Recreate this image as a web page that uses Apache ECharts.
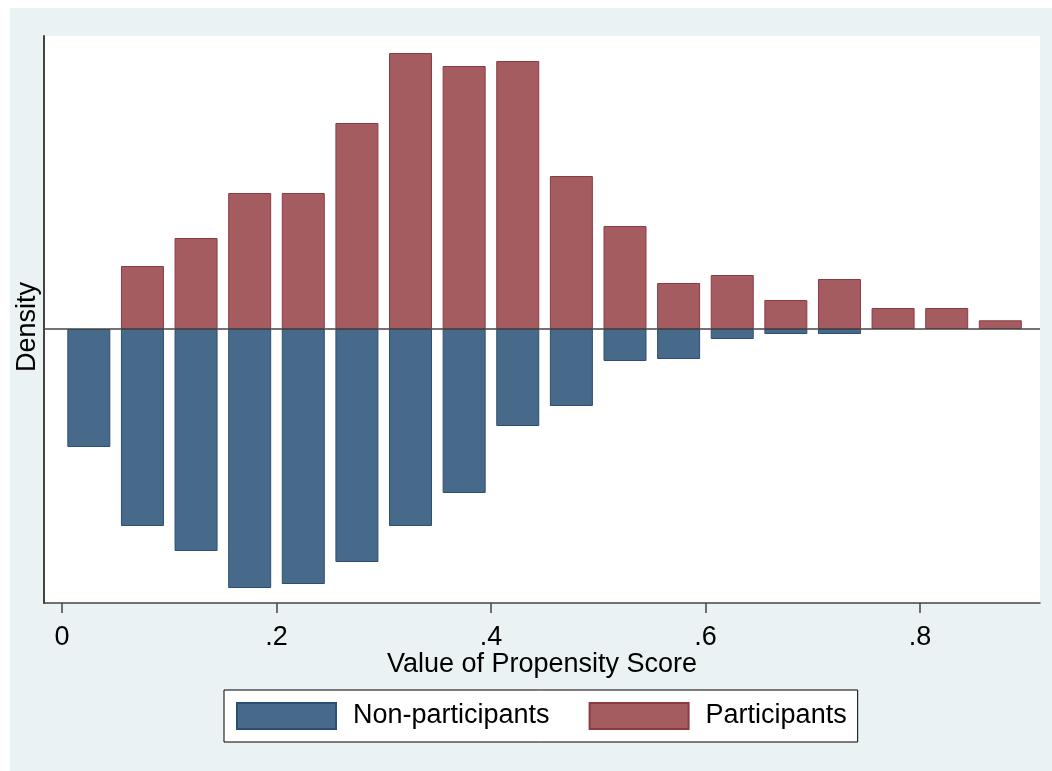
<!DOCTYPE html>
<html>
<head>
<meta charset="utf-8">
<script src="https://cdn.jsdelivr.net/npm/echarts@6/dist/echarts.min.js"></script>
<style>
  html, body { margin: 0; padding: 0; background: #ffffff; }
  #bg { position: absolute; left: 10px; top: 8px; width: 1042px; height: 763px; background: #eaf2f3; }
  #chart { position: absolute; left: 0; top: 0; width: 1052px; height: 771px; }
</style>
</head>
<body>
<div id="bg"></div>
<div id="chart"></div>
<script>
// Bin centers of the propensity-score histogram (bin width 0.05)
const binCenters = [0.025, 0.075, 0.125, 0.175, 0.225, 0.275, 0.325, 0.375, 0.425,
                    0.475, 0.525, 0.575, 0.625, 0.675, 0.725, 0.775, 0.825, 0.875];
// Density of participants (drawn upward)
const participants = [0, 0.63, 0.91, 1.36, 1.36, 2.06, 2.76, 2.63, 2.68,
                      1.53, 1.03, 0.46, 0.54, 0.29, 0.50, 0.21, 0.21, 0.087];
// Density of non-participants (drawn downward)
const nonParticipants = [1.18, 1.97, 2.22, 2.59, 2.55, 2.33, 1.97, 1.64, 0.97,
                         0.77, 0.32, 0.30, 0.10, 0.05, 0.05, 0, 0, 0];
// X-axis ticks
const tickValues = [0, 0.2, 0.4, 0.6, 0.8];
const tickLabels = ['0', '.2', '.4', '.6', '.8'];

const FONT = "'Liberation Sans', Arial, Helvetica, sans-serif";

const partData = [];
const nonData = [];
binCenters.forEach((x, i) => {
  if (participants[i] > 0) partData.push([x, participants[i]]);
  if (nonParticipants[i] > 0) nonData.push([x, -nonParticipants[i]]);
});

const chart = echarts.init(document.getElementById('chart'), null, { renderer: 'canvas' });
chart.setOption({
  animation: false,
  backgroundColor: 'transparent',
  textStyle: { fontFamily: FONT },
  grid: {
    left: 44, top: 36, right: 12, bottom: 168,
    show: true, backgroundColor: '#ffffff', borderWidth: 0,
    containLabel: false
  },
  legend: {
    left: 224, top: 690,
    orient: 'horizontal',
    backgroundColor: '#ffffff',
    borderColor: '#000000', borderWidth: 1,
    padding: [12, 11, 12, 12],
    itemWidth: 99, itemHeight: 26, itemGap: 39,
    icon: 'rect',
    selectedMode: false,
    textStyle: { fontFamily: FONT, fontSize: 27, color: '#000000', padding: [0, 0, 0, 12], lineHeight: 26 },
    data: ['Non-participants', 'Participants']
  },
  xAxis: {
    type: 'value',
    min: -0.0168, max: 0.912,
    name: 'Value of Propensity Score',
    nameLocation: 'middle',
    nameGap: 48,
    nameMoveOverlap: false,
    nameTextStyle: { fontFamily: FONT, fontSize: 27, color: '#000000' },
    axisLine: { show: true, onZero: false, lineStyle: { color: '#444444', width: 1.5 } },
    axisTick: { show: true, inside: false, length: 10, customValues: tickValues,
                lineStyle: { color: '#444444', width: 1.5 } },
    axisLabel: {
      show: true, margin: 21, customValues: tickValues,
      fontFamily: FONT, fontSize: 27, color: '#000000',
      formatter: function (v) {
        const idx = tickValues.findIndex(t => Math.abs(t - v) < 1e-9);
        return idx >= 0 ? tickLabels[idx] : '';
      }
    },
    splitLine: { show: false }
  },
  yAxis: {
    type: 'value',
    min: -2.74, max: 2.93,
    name: 'Density',
    nameLocation: 'middle',
    nameGap: 3,
    nameMoveOverlap: false,
    nameTextStyle: { fontFamily: FONT, fontSize: 27, color: '#000000', padding: [0, 15, 0, 0] },
    axisLine: { show: true, onZero: false, lineStyle: { color: '#444444', width: 2 } },
    axisTick: { show: false },
    axisLabel: { show: false },
    splitLine: { show: false }
  },
  series: [
    {
      name: 'Non-participants',
      type: 'bar',
      data: nonData,
      barWidth: 43,
      barGap: '-100%',
      itemStyle: { color: '#476a8b', borderColor: '#2a4f72', borderWidth: 1 }
    },
    {
      name: 'Participants',
      type: 'bar',
      data: partData,
      barWidth: 43,
      barGap: '-100%',
      itemStyle: { color: '#a55c60', borderColor: '#8c3a42', borderWidth: 1 },
      markLine: {
        silent: true,
        symbol: ['none', 'none'],
        label: { show: false },
        lineStyle: { color: '#444444', width: 1.5, type: 'solid' },
        data: [{ yAxis: 0 }]
      }
    }
  ]
});
</script>
</body>
</html>
